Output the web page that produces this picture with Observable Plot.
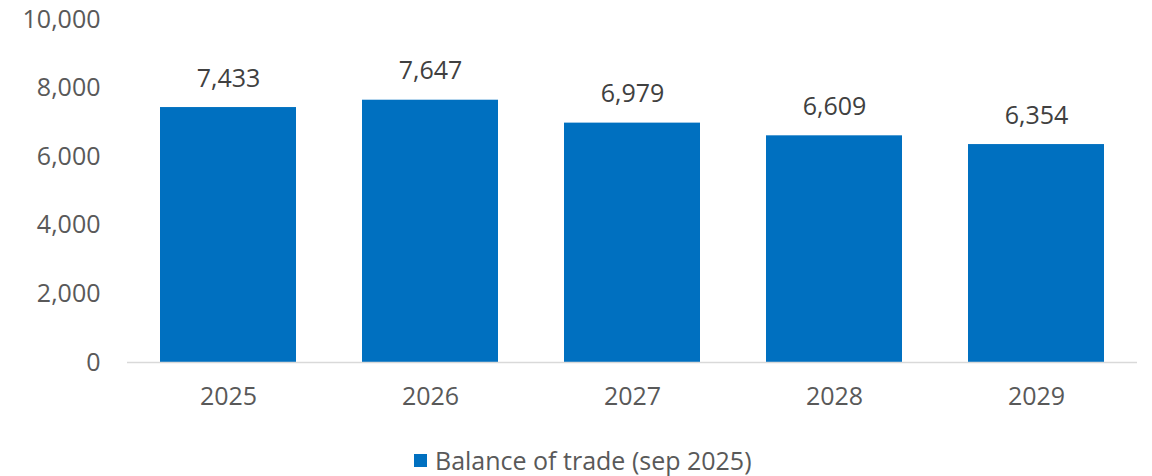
<!DOCTYPE html>
<html>
<head>
<meta charset="utf-8">
<script src="https://cdn.jsdelivr.net/npm/d3@7"></script>
<script src="https://cdn.jsdelivr.net/npm/@observablehq/plot@0.6"></script>
<style>
  body { margin: 0; background: #fff; font-family: "Open Sans", sans-serif; overflow: hidden; }
  #chart svg { display: block; }
  .legend { position: relative; height: 56px; }
  .legend .item { position: absolute; left: 414px; top: 27px; display: flex; align-items: center; color: #595959; font-size: 25px; line-height: 26px; }
  .legend .sw { width: 13px; height: 13px; background: #0070C0; margin-right: 8px; }
</style>
</head>
<body>
<div id="chart"></div>
<div class="legend"><div class="item"><span class="sw"></span><span>Balance of trade (sep 2025)</span></div></div>
<script>
const years = ["2025", "2026", "2027", "2028", "2029"];
const values = [7433, 7647, 6979, 6609, 6354];
const yTicks = [0, 2000, 4000, 6000, 8000, 10000];
const seriesName = "Balance of trade (sep 2025)";

const data = years.map((y, i) => ({year: y, value: values[i]}));
const fmt = d3.format(",");

const chart = Plot.plot({
  width: 1152,
  height: 420,
  marginLeft: 127,
  marginRight: 15,
  marginTop: 19,
  marginBottom: 58,
  style: {fontFamily: "Open Sans, sans-serif", fontSize: "25px", color: "#595959", background: "#fff"},
  x: {domain: years, paddingInner: 0.327, paddingOuter: 0.1635, label: null, tickSize: 0, tickPadding: 25},
  y: {domain: [0, 10000], ticks: yTicks, tickFormat: fmt, label: null, tickSize: 0, tickPadding: 27},
  marks: [
    Plot.barY(data, {x: "year", y: "value", fill: "#0070C0"}),
    Plot.ruleY([0], {stroke: "#d9d9d9", strokeWidth: 1.5}),
    Plot.text(data, {x: "year", y: "value", text: d => fmt(d.value), dy: -29, fill: "#404040", fontSize: 25, lineAnchor: "middle"})
  ]
});
document.getElementById("chart").appendChild(chart);
</script>
</body>
</html>
